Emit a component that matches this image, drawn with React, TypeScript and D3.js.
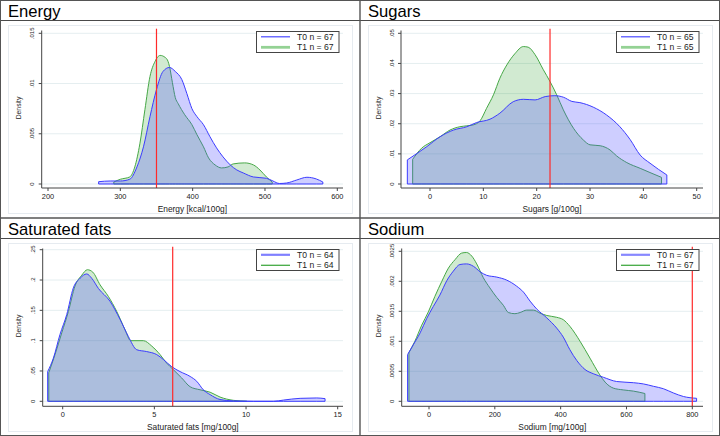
import { area, curveMonotoneX, scaleLinear } from "d3";

type Pt = [number, number];

// values: [x, density]
const energyT0: Pt[] = [
  [270, 0.00023], [286, 0.0003], [300, 0.0003], [313, 0.00047], [323, 0.0017], [332, 0.0037],
  [341, 0.0067], [350, 0.0094], [359, 0.0112], [368, 0.0116], [376, 0.0112], [385, 0.0104],
  [392, 0.009], [399, 0.0075], [406, 0.0067], [415, 0.0059], [424, 0.0047], [433, 0.0036],
  [442, 0.0027], [452, 0.0019], [461, 0.0014], [470, 0.0011], [484, 0.0007], [502, 0.00057],
  [511, 0.0003], [520, 0.00005], [530, 0.0001], [544, 0.0004], [558, 0.00067], [571, 0.0005],
  [580, 0.0002],
];
const energyT1: Pt[] = [
  [291, 0.0002], [300, 0.00047], [313, 0.0007], [320, 0.0017], [327, 0.004], [334, 0.0074],
  [341, 0.0107], [348, 0.0122], [355, 0.0128], [362, 0.0126], [366, 0.0122], [368, 0.0117],
  [372, 0.0101], [376, 0.0086], [380, 0.008], [389, 0.0069], [399, 0.0059], [406, 0.0049],
  [415, 0.0037], [422, 0.0026], [431, 0.0019], [440, 0.0016], [449, 0.0017], [456, 0.002],
  [472, 0.0021], [484, 0.0019], [493, 0.0014], [502, 0.0007], [510, 0.0002],
];
const sugarsT0: Pt[] = [
  [-4.25, 0.008], [-0.6, 0.0124], [1.9, 0.0157], [4.4, 0.0179], [6.9, 0.019], [8.75, 0.0204],
  [11.25, 0.0215], [13.1, 0.0235], [15.6, 0.0273], [17.5, 0.0281], [19.7, 0.0279], [21.6, 0.029],
  [23.4, 0.0293], [25, 0.0288], [26.6, 0.0274], [28.1, 0.027], [30.6, 0.0255], [33.1, 0.0229],
  [35.6, 0.019], [37.5, 0.0148], [39.4, 0.0096], [41.25, 0.0069], [44.4, 0.003],
];
const sugarsT1: Pt[] = [
  [-3.25, 0.0082], [-1.56, 0.0119], [0, 0.0137], [1.9, 0.0157], [3.75, 0.0179], [5.6, 0.019],
  [6.9, 0.0193], [8.1, 0.0196], [9.4, 0.021], [10.6, 0.0251], [11.9, 0.0296], [13.1, 0.0351],
  [14.4, 0.0395], [15.9, 0.0432], [17.5, 0.0456], [18.4, 0.0454], [19.7, 0.0429], [21.25, 0.0379],
  [22.5, 0.034], [23.75, 0.0296], [25, 0.0246], [26.9, 0.0185], [28.75, 0.0146], [30, 0.013],
  [31.9, 0.0127], [33.75, 0.0113], [35, 0.0093], [36.9, 0.0071], [39.4, 0.0052], [41.25, 0.0038],
  [43.4, 0.0022],
];
const satfatT0: Pt[] = [
  [-0.82, 0.049], [-0.51, 0.071], [-0.15, 0.11], [0.22, 0.143], [0.58, 0.187], [0.95, 0.203],
  [1.31, 0.21], [1.58, 0.203], [1.95, 0.186], [2.58, 0.165], [3.13, 0.135], [3.58, 0.107],
  [4.04, 0.085], [4.58, 0.082], [5.13, 0.077], [5.49, 0.069], [5.95, 0.057], [6.4, 0.049],
  [6.95, 0.041], [7.31, 0.033], [7.67, 0.019], [8.04, 0.011], [8.58, 0.003], [9.31, 0.0006],
  [10.4, 0], [11.5, 0], [12.04, 0.002], [12.95, 0.0049], [13.86, 0.0055], [14.31, 0.0044],
];
const satfatT1: Pt[] = [
  [-0.76, 0.047], [-0.42, 0.077], [-0.05, 0.113], [0.31, 0.148], [0.67, 0.19], [1.04, 0.208],
  [1.35, 0.217], [1.64, 0.213], [2.04, 0.192], [2.49, 0.173], [2.95, 0.148], [3.4, 0.118],
  [3.71, 0.1], [4.4, 0.1], [4.86, 0.091], [5.31, 0.077], [5.67, 0.063], [6.04, 0.052],
  [6.49, 0.0385], [6.95, 0.024], [7.49, 0.019], [8.04, 0.015], [8.58, 0.007], [9.31, 0.0016],
  [10.04, 0],
];
const sodiumT0: Pt[] = [
  [-65, 0.00078], [-48, 0.00094], [-27, 0.00114], [-7, 0.00138], [13, 0.00158], [33, 0.00177],
  [54, 0.00201], [74, 0.00217], [94, 0.00228], [114, 0.00229], [135, 0.00225], [155, 0.00216],
  [175, 0.0021], [206, 0.00207], [236, 0.00202], [266, 0.00192], [287, 0.00182], [307, 0.00167],
  [327, 0.00154], [358, 0.00139], [388, 0.00122], [408, 0.00107], [428, 0.00086], [449, 0.00068],
  [474, 0.00053], [499, 0.00046], [530, 0.0004], [570, 0.00033], [621, 0.00031], [651, 0.00029],
  [682, 0.00025], [712, 0.00021], [742, 0.00014], [773, 0.00008], [813, 0.00005],
];
const sodiumT1: Pt[] = [
  [-61, 0.00081], [-43, 0.001], [-22, 0.00127], [-2, 0.00149], [18, 0.00175], [39, 0.002],
  [59, 0.00222], [79, 0.00236], [99, 0.00247], [114, 0.00248], [130, 0.00242], [145, 0.00229],
  [165, 0.00206], [185, 0.00189], [206, 0.00173], [226, 0.0016], [241, 0.00148], [261, 0.00146],
  [277, 0.00148], [297, 0.00152], [317, 0.00152], [337, 0.00147], [358, 0.00143], [388, 0.0014],
  [408, 0.00136], [428, 0.00125], [459, 0.001], [489, 0.00072], [519, 0.00044], [535, 0.00032],
  [560, 0.00022], [590, 0.00019], [621, 0.00017], [656, 0.00013],
];

const titles = ["Energy", "Sugars", "Saturated fats", "Sodium"];
const xTitles = ["Energy [kcal/100g]", "Sugars [g/100g]", "Saturated fats [mg/100g]", "Sodium [mg/100g]"];
const xTicks = [
  [200, 300, 400, 500, 600],
  [0, 10, 20, 30, 40, 50],
  [0, 5, 10, 15],
  [0, 200, 400, 600, 800],
];
const yTicks = [
  [0, 0.005, 0.01, 0.015],
  [0, 0.01, 0.02, 0.03, 0.04, 0.05],
  [0, 0.05, 0.1, 0.15, 0.2, 0.25],
  [0, 0.0005, 0.001, 0.0015, 0.002, 0.0025],
];
const yTickLabels = [
  ["0", ".005", ".01", ".015"],
  ["0", ".01", ".02", ".03", ".04", ".05"],
  ["0", ".05", ".1", ".15", ".2", ".25"],
  ["0", ".0005", ".001", ".0015", ".002", ".0025"],
];
const nT0 = [67, 65, 64, 67];
const nT1 = [67, 65, 64, 67];
const refValues = [350, 22.5, 6, 800];
const seriesT0 = [energyT0, sugarsT0, satfatT0, sodiumT0];
const seriesT1 = [energyT1, sugarsT1, satfatT1, sodiumT1];

// pixel layout of each panel (local coords)
const LAYOUT = [
  { x0: 0, y0: 0, xPx: [48, 337.3], yPx: [184, 33.3], axisX: 41.7, axisY: 188 },
  { x0: 360, y0: 0, xPx: [70, 336.7], yPx: [184, 33.3], axisX: 41, axisY: 188 },
  { x0: 0, y0: 218, xPx: [62.7, 337.7], yPx: [183.3, 31.7], axisX: 42.7, axisY: 188.3 },
  { x0: 360, y0: 218, xPx: [69, 332.3], yPx: [183.3, 33.3], axisX: 41.7, axisY: 188.3 },
];
const LEGEND_KEYS = [
  { t0: { c: "#4848ff", w: 1.2 }, t1: { c: "#94d294", w: 2.8 } },
  { t0: { c: "#4848ff", w: 1.2 }, t1: { c: "#94d294", w: 2.8 } },
  { t0: { c: "#8080ff", w: 2.2 }, t1: { c: "#44aa44", w: 1.3 } },
  { t0: { c: "#8888ff", w: 2.2 }, t1: { c: "#44aa44", w: 1.3 } },
];

const FONT = "'Liberation Sans', Arial, Helvetica, sans-serif";
const AXIS_RIGHT = 343;
const BLUE = "#3c3cff";
const GREEN = "#46a846";

function Panel({ i }: { i: number }) {
  const L = LAYOUT[i];
  const xt = xTicks[i];
  const yt = yTicks[i];
  const xScale = scaleLinear().domain([xt[0], xt[xt.length - 1]]).range(L.xPx);
  const yScale = scaleLinear().domain([0, yt[yt.length - 1]]).range(L.yPx);
  const makeArea = area<Pt>()
    .x((d) => xScale(d[0]))
    .y0(yScale(0))
    .y1((d) => yScale(d[1]))
    .curve(curveMonotoneX);
  const refX = xScale(refValues[i]);
  const keys = LEGEND_KEYS[i];

  return (
    <g transform={`translate(${L.x0},${L.y0})`}>
      <text x={8} y={16.7} fontFamily={FONT} fontSize={16.6} fill="#000">
        {titles[i]}
      </text>
      <line x1={0} x2={360} y1={20.5} y2={20.5} stroke="#4a4a4a" strokeWidth={1.2} />
      <rect x={8.5} y={25.5} width={344} height={188} fill="none" stroke="#e6ebf0" />

      {yt.map((t) => (
        <line key={t} x1={L.axisX} x2={AXIS_RIGHT} y1={yScale(t)} y2={yScale(t)} stroke="#e5eef0" />
      ))}

      <path d={makeArea(seriesT1[i]) ?? ""} fill="rgb(0,140,0)" fillOpacity={0.18} stroke={GREEN} strokeWidth={1} strokeLinejoin="round" />
      <path d={makeArea(seriesT0[i]) ?? ""} fill="#4b4bff" fillOpacity={0.27} stroke={BLUE} strokeWidth={1} strokeLinejoin="round" />

      <line x1={refX} x2={refX} y1={28.7} y2={L.axisY} stroke="#ff2a2a" strokeWidth={1.2} />

      {/* axes */}
      <line x1={L.axisX} x2={L.axisX} y1={30.5} y2={L.axisY} stroke="#444" />
      <line x1={L.axisX} x2={AXIS_RIGHT} y1={L.axisY} y2={L.axisY} stroke="#444" />
      {yt.map((t, k) => (
        <g key={t}>
          <line x1={L.axisX - 3} x2={L.axisX} y1={yScale(t)} y2={yScale(t)} stroke="#444" />
          <text
            transform={`translate(${L.axisX - 7.5},${yScale(t)}) rotate(-90)`}
            textAnchor="middle"
            fontFamily={FONT}
            fontSize={6}
            fill="#222"
          >
            {yTickLabels[i][k]}
          </text>
        </g>
      ))}
      {xt.map((t) => (
        <g key={t}>
          <line x1={xScale(t)} x2={xScale(t)} y1={L.axisY} y2={L.axisY + 3} stroke="#444" />
          <text x={xScale(t)} y={198.7} textAnchor="middle" fontFamily={FONT} fontSize={7.4} fill="#222">
            {t}
          </text>
        </g>
      ))}
      <text x={(L.axisX + AXIS_RIGHT) / 2} y={211.5} textAnchor="middle" fontFamily={FONT} fontSize={8.4} fill="#222">
        {xTitles[i]}
      </text>
      <text transform={`translate(20.8,108) rotate(-90)`} textAnchor="middle" fontFamily={FONT} fontSize={6.8} fill="#222">
        Density
      </text>

      {/* legend */}
      <rect x={256.5} y={31.5} width={82.5} height={21} fill="#fff" stroke="#444" />
      <line x1={261} x2={290} y1={36.8} y2={36.8} stroke={keys.t0.c} strokeWidth={keys.t0.w} />
      <line x1={261} x2={290} y1={47.3} y2={47.3} stroke={keys.t1.c} strokeWidth={keys.t1.w} />
      <text x={297} y={39.8} fontFamily={FONT} fontSize={8.6} fill="#222">
        {`T0 n = ${nT0[i]}`}
      </text>
      <text x={297} y={50.3} fontFamily={FONT} fontSize={8.6} fill="#222">
        {`T1 n = ${nT1[i]}`}
      </text>
    </g>
  );
}

export default function App() {
  return (
    <svg
      width={720}
      height={436}
      viewBox="0 0 720 436"
      style={{ position: "absolute", left: 0, top: 0, background: "#fff" }}
    >
      <rect x={0} y={0} width={720} height={436} fill="#fff" />
      {[0, 1, 2, 3].map((i) => (
        <Panel key={i} i={i} />
      ))}
      <rect x={0.5} y={0.5} width={719} height={435} fill="none" stroke="#555" />
      <line x1={360} x2={360} y1={0} y2={436} stroke="#555" strokeWidth={1.4} />
      <line x1={0} x2={720} y1={218} y2={218} stroke="#555" strokeWidth={1.4} />
    </svg>
  );
}
